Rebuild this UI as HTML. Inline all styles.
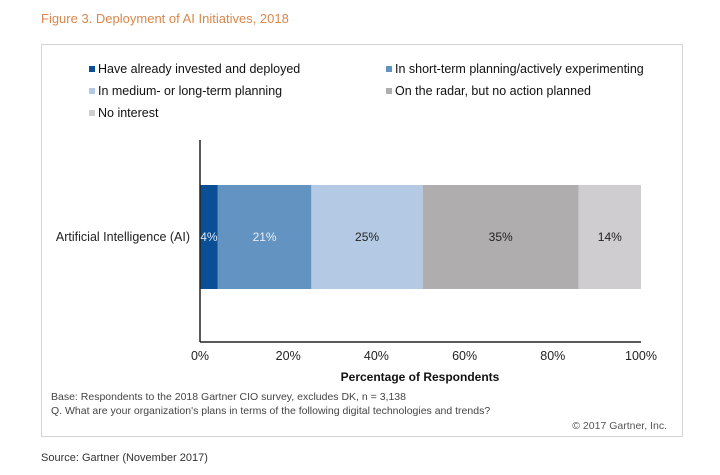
<!DOCTYPE html>
<html><head><meta charset="utf-8"><style>
body{margin:0;background:#fff;width:720px;height:470px;overflow:hidden;font-family:"Liberation Sans",Arial,sans-serif}
svg text{font-family:"Liberation Sans",Arial,sans-serif}
</style></head><body>
<svg id="c" width="720" height="470">
<text x="41" y="23" font-size="13" fill="#d9874a">Figure 3. Deployment of AI Initiatives, 2018</text>
<rect x="41.5" y="44.5" width="641" height="392" fill="#fff" stroke="#d4d4d4"/>
<g id="legend"></g>
<g id="bars"></g>
<g id="axes"></g>
<text x="420" y="381" font-size="12" font-weight="bold" text-anchor="middle" fill="#111">Percentage of Respondents</text>
<text x="51" y="400" font-size="10.5" fill="#444">Base: Respondents to the 2018 Gartner CIO survey, excludes DK, n = 3,138</text>
<text x="51" y="414" font-size="10.5" fill="#444">Q. What are your organization's plans in terms of the following digital technologies and trends?</text>
<text x="667" y="429" font-size="10.5" fill="#555" text-anchor="end">© 2017 Gartner, Inc.</text>
<text x="41" y="461" font-size="11" fill="#333">Source: Gartner (November 2017)</text>
</svg>
<script>
const categories=["Artificial Intelligence (AI)"];
const seriesNames=["Have already invested and deployed","In short-term planning/actively experimenting","In medium- or long-term planning","On the radar, but no action planned","No interest"];
const seriesValues=[4,21,25,35,14];
const tickValues=[0,20,40,60,80,100];
const tickLabels=["0%","20%","40%","60%","80%","100%"];
const colors=["#0a4f96","#6393c1","#b4c9e3","#afadad","#cfcdcf"];
const labelColors=["#dfe8f5","#e6eef8","#222","#222","#222"];
const NS="http://www.w3.org/2000/svg";
const x0=200,x1=641,yTop=185,yBot=289,axisY=342;
const xs=v=>x0+v/100*(x1-x0);
const total=seriesValues.reduce((a,b)=>a+b,0);
const share=v=>v/total*100;
function mk(t,a,p){const e=document.createElementNS(NS,t);for(const k in a)e.setAttribute(k,a[k]);p.appendChild(e);return e;}
const lg=document.getElementById('legend');
seriesNames.forEach((n,i)=>{
  const col=i%2,row=Math.floor(i/2);
  const lx=col?386:89,ly=70+row*22;
  const g=mk('g',{},lg);
  
  
  mk('rect',{x:lx,y:ly-4,width:6,height:6,fill:colors[i]},g);
  const t=mk('text',{x:lx+9,y:ly+3,'font-size':12.5,fill:'#111'},g);t.textContent=n;
});
const bg=document.getElementById('bars');
let cum=0;
seriesValues.forEach((v,i)=>{
  const a=xs(share(cum)),b=xs(share(cum+v));
  const r=mk('rect',{x:a,y:yTop,width:b-a,height:yBot-yTop,fill:colors[i]},bg);
  
  
  const t=mk('text',{x:(a+b)/2,y:(yTop+yBot)/2+4,'font-size':12,'text-anchor':'middle',fill:labelColors[i]},bg);
  
  
  t.textContent=v+'%';
  cum+=v;
});
const ax=document.getElementById('axes');
mk('line',{x1:x0,y1:140,x2:x0,y2:axisY,stroke:'#222','stroke-width':1.5},ax);
mk('line',{x1:x0,y1:axisY,x2:x1,y2:axisY,stroke:'#222','stroke-width':1.5},ax);
tickValues.forEach((v,i)=>{
  const t=mk('text',{x:xs(v),y:360,'font-size':12.5,'text-anchor':'middle',fill:'#222'},ax);
  
  
  t.textContent=tickLabels[i];
});
categories.forEach(c=>{
  const t=mk('text',{x:190,y:(yTop+yBot)/2+4,'font-size':12.5,'text-anchor':'end',fill:'#222'},ax);
  
  
  t.textContent=c;
});
</script>
</body></html>
